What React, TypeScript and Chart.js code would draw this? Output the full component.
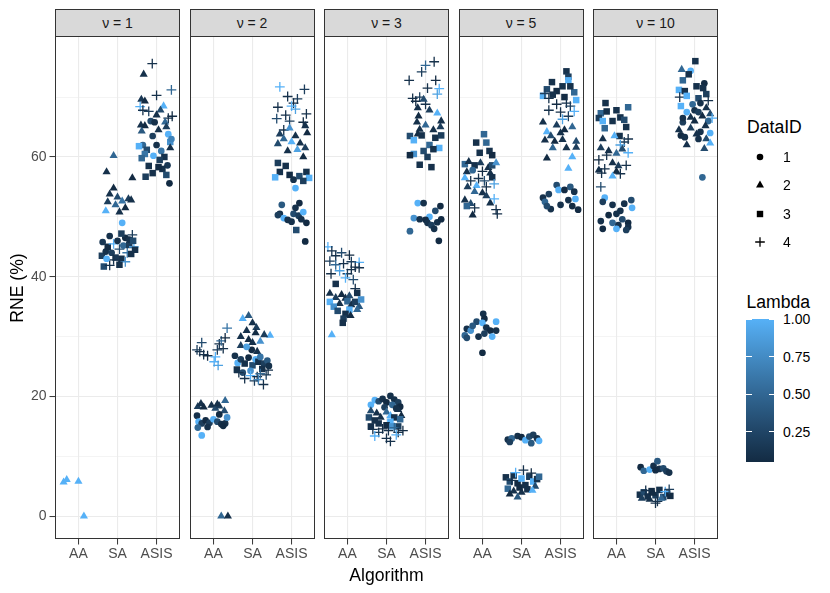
import { useEffect, useRef } from 'react';
import Chart from 'chart.js/auto';

const algorithms = ['AA', 'SA', 'ASIS'];
const nuValues = ['1', '2', '3', '5', '10'];
const yTickValues = [0, 10, 20, 30, 40, 50, 60, 70];
const yLabelled = [0, 20, 40, 60];
const dataIds = [1, 2, 3, 4];
const lambdaTicks = [0.25, 0.5, 0.75, 1.0];
const lambdaMin = 0.05;
const lambdaMax = 1;

// [jitter offset, RNE (%), DataID, Lambda]
type Pt = [number, number, number, number];

const nu1AA: Pt[] = [[-0.38,5.7,2,1],[-0.3,6.1,2,1],[0.0,5.8,2,1],[0.14,0.0,2,1]];
const nu1SA: Pt[] = [
  [-0.35,41.7,3,0.3],[-0.2,41.9,4,0.1],[-0.4,43.5,3,0.2],[-0.3,44.2,1,0.1],[-0.25,45.0,3,0.05],[-0.15,44.0,1,0.2],[-0.1,45.5,4,1],[-0.05,43.2,3,0.15],[0.0,46.0,1,0.1],[0.05,44.6,4,0.3],[0.1,43.0,3,0.1],[0.15,45.2,1,0.5],[0.2,46.5,1,0.05],[0.25,44.0,4,0.6],[0.3,45.3,3,0.2],[0.35,43.8,3,0.1],[0.38,47.0,4,0.2],[0.42,45.0,4,1],[0.45,44.5,3,0.1],[-0.38,45.8,1,0.15],[-0.2,46.8,1,0.1],[0.1,47.2,3,0.2],[-0.1,42.8,4,0.1],[0.2,42.5,4,0.8],[0.3,46.2,1,0.1],[-0.28,43.0,1,1],[0.05,42.0,3,0.1],[0.4,46.0,3,0.3],
  [-0.3,51.0,2,1],[-0.25,52.5,2,0.2],[-0.2,53.8,2,0.1],[-0.1,54.8,2,0.05],[-0.05,52.0,2,0.5],[0.0,53.3,2,0.3],[0.05,50.8,2,0.1],[0.12,52.6,2,0.6],[0.2,51.5,2,0.05],[0.28,53.0,2,0.2],[0.35,52.8,2,0.1],[0.12,49.0,1,1],
  [-0.1,60.2,2,0.5],[-0.28,57.5,2,0.1],[0.38,56.5,2,0.05],
];
const nu1ASIS: Pt[] = [
  [-0.11,75.6,4,0.1],[-0.33,73.8,2,0.1],[0.38,71.2,4,0.5],[0.0,70.3,4,0.1],[-0.39,69.6,2,0.15],[-0.3,69.3,2,0.05],[-0.42,68.4,4,1],[-0.35,67.8,4,0.1],[0.18,68.5,2,1],[0.1,67.8,2,0.3],[-0.2,67.6,4,0.2],[0.3,66.5,4,0.1],[0.0,67.0,2,0.1],[-0.15,66.0,1,0.3],[0.22,65.8,2,0.5],[-0.4,65.3,2,0.1],[-0.3,65.2,2,0.05],[0.25,65.0,2,0.2],[-0.38,64.3,2,0.4],[0.05,64.5,2,0.1],[-0.1,63.5,1,0.2],[0.3,63.8,1,1],[0.35,62.5,3,0.8],[-0.35,62.0,1,0.5],[-0.25,61.2,3,0.3],[0.0,62.0,1,0.1],[0.12,61.0,1,0.6],[-0.08,60.2,1,1],[-0.3,60.5,3,0.6],[0.2,60.0,3,0.1],[0.35,61.5,2,0.1],[-0.38,59.8,3,0.5],[0.08,59.5,3,0.2],[-0.2,58.5,3,0.1],[0.28,58.6,1,0.15],[0.15,58.0,3,0.1],[-0.28,56.7,3,0.2],[-0.1,57.3,3,0.1],[0.05,58.3,3,0.05],[0.25,57.0,3,0.3],[0.33,55.6,1,0.05],[0.38,63.0,1,0.7],[-0.45,61.8,3,1],[0.4,66.8,4,0.05],[-0.05,65.8,1,0.1],
];

const nu2AA: Pt[] = [
  [-0.42,27.8,4,0.2],[-0.35,27.5,4,0.1],[-0.3,29.0,4,0.3],[-0.25,27.0,4,0.1],[-0.15,26.8,4,0.05],[0.05,26.6,4,1],[0.1,27.8,4,0.2],[0.15,28.8,4,0.1],[0.2,29.3,4,0.5],[0.25,28.0,4,0.1],[0.3,29.8,4,0.05],[0.35,31.4,4,0.6],[0.02,25.8,4,1],[0.12,25.2,4,0.9],
  [-0.4,18.3,2,0.2],[-0.32,18.8,2,0.1],[-0.25,18.2,2,0.05],[-0.05,18.5,2,0.1],[0.05,18.0,2,0.3],[0.15,18.4,2,0.2],[0.3,19.3,2,0.5],[0.28,17.6,2,0.3],[0.1,18.7,2,0.1],
  [-0.42,16.8,1,0.1],[-0.38,15.8,1,1],[-0.3,15.5,1,0.2],[-0.4,14.8,1,0.5],[-0.3,13.5,1,1],[-0.2,16.0,1,0.05],[-0.1,15.6,1,0.2],[0.0,16.2,1,1],[0.1,15.8,1,0.3],[0.15,17.0,1,0.05],[0.2,15.4,1,0.1],[0.3,15.5,1,0.1],[0.35,16.5,1,0.8],[0.25,15.1,1,0.05],[-0.15,14.9,1,0.1],
  [0.2,0.0,2,0.5],[0.37,0.0,2,0.1],
];
const nu2SA: Pt[] = [
  [-0.25,33.0,2,1],[-0.1,33.5,2,0.4],[0.0,32.3,2,0.1],[0.1,31.5,2,0.2],[-0.15,31.0,2,0.1],[0.08,30.6,2,0.05],[0.45,30.2,2,1],[0.3,30.3,2,0.2],[-0.3,30.0,2,0.1],[-0.1,29.5,2,0.05],[0.2,29.2,2,0.8],[-0.3,28.5,2,0.2],[0.0,29.0,2,0.1],[-0.02,27.8,1,0.05],[0.12,27.5,2,0.1],[-0.15,28.3,1,0.9],
  [-0.45,26.8,1,0.1],[-0.38,25.6,1,1],[-0.3,26.2,1,0.2],[-0.2,25.5,3,0.1],[-0.1,26.5,1,0.05],[0.0,25.2,3,0.3],[0.08,26.2,1,1],[0.15,25.8,3,0.1],[0.2,26.6,1,0.6],[0.3,25.5,3,0.2],[0.38,26.0,1,0.4],[0.42,25.1,1,0.1],[-0.4,24.5,3,0.1],[-0.25,24.0,1,0.3],[0.25,24.6,3,0.1],[-0.05,24.3,1,0.8],
  [-0.35,24.0,4,0.1],[-0.2,23.0,4,0.1],[-0.05,23.5,4,1],[0.05,22.6,4,0.2],[0.12,23.3,4,0.05],[0.2,23.8,4,0.5],[0.28,22.0,4,0.1],[0.35,23.6,4,0.2],[0.4,24.4,4,0.1],[0.15,22.8,4,0.7],
];
const nu2ASIS: Pt[] = [
  [-0.3,71.7,4,1],[0.33,71.3,4,0.2],[-0.1,70.1,4,0.1],[0.15,69.7,4,0.2],[0.05,69.0,4,0.05],[-0.35,68.3,4,0.1],[0.0,68.5,4,1],[0.1,68.0,4,0.9],[0.38,67.2,4,0.1],[-0.38,66.4,4,0.3],[-0.15,67.0,4,0.1],[-0.05,66.0,4,0.2],[0.3,65.8,4,0.05],[-0.2,64.5,4,0.1],
  [0.35,65.2,2,0.1],[-0.05,64.8,2,0.8],[-0.3,63.8,2,0.2],[0.1,63.5,2,0.1],[0.4,64.0,2,0.05],[-0.2,63.0,2,0.5],[0.0,62.5,2,1],[-0.35,62.2,2,0.3],[0.22,62.3,2,0.1],[0.35,61.5,2,0.2],[0.15,61.2,2,0.9],[-0.1,61.0,2,0.1],[0.3,60.0,2,0.05],
  [-0.35,59.0,3,0.2],[-0.15,58.5,3,0.1],[-0.3,57.5,3,0.1],[-0.05,57.0,3,0.05],[-0.42,56.6,3,1],[0.2,56.8,3,0.3],[0.38,57.5,3,0.1],[0.45,56.5,3,1],[0.3,56.0,3,0.2],[0.05,56.2,1,0.1],[0.1,54.8,1,1],
  [-0.25,52.0,1,0.4],[0.1,51.5,1,0.1],[0.2,52.3,1,0.05],[-0.3,50.5,1,0.1],[-0.2,49.8,1,1],[-0.1,49.5,1,0.1],[0.05,50.5,1,0.3],[0.18,50.2,1,0.2],[0.3,50.8,1,1],[0.38,49.0,1,0.05],[0.25,49.6,1,0.1],[-0.35,50.3,1,0.2],[0.12,47.8,3,0.3],[0.35,45.9,1,0.05],[0.0,49.2,1,0.1],
];

const nu3AA: Pt[] = [
  [-0.5,45.0,4,1],[-0.4,44.3,4,0.1],[-0.3,43.5,4,0.1],[-0.15,44.0,4,0.3],[0.05,43.6,4,0.05],[-0.45,42.6,4,0.2],[-0.3,42.0,4,0.5],[-0.1,42.2,4,0.1],[0.1,42.5,4,0.2],[0.3,42.4,4,1],[0.2,41.6,4,0.05],[-0.42,40.5,4,0.1],[-0.2,41.0,4,0.9],[0.0,40.5,4,0.2],[0.1,41.2,4,0.1],[0.3,41.5,4,0.1],[-0.05,39.8,4,1],[0.15,39.5,4,0.3],[0.2,38.0,4,0.1],
  [-0.3,38.8,3,0.1],[0.25,37.3,3,0.1],[-0.45,37.2,2,0.1],[-0.3,36.5,2,0.2],[-0.15,37.0,2,0.05],[-0.05,36.4,2,0.1],[0.05,36.8,2,0.3],[-0.45,35.8,3,1],[-0.2,35.5,2,0.1],[0.0,35.9,3,0.5],[0.1,35.3,2,0.1],[0.2,35.8,3,0.2],[0.3,35.0,2,0.4],[0.35,36.2,3,0.8],[-0.35,35.0,3,0.8],[-0.25,34.3,3,0.3],[0.05,34.5,3,1],[0.25,34.5,2,0.5],[-0.05,33.8,3,0.1],[-0.1,33.0,3,0.2],[0.08,33.5,2,0.05],[-0.12,32.3,3,0.1],[-0.4,30.3,2,1],
];
const nu3SA: Pt[] = [
  [0.1,20.1,1,0.1],[-0.3,19.4,1,1],[-0.2,19.2,1,0.3],[-0.1,19.6,1,0.1],[0.0,19.0,1,0.05],[0.2,19.5,1,0.1],[0.3,19.0,1,0.2],[0.35,18.3,1,0.05],[-0.4,18.6,1,1],[0.15,18.6,1,0.5],[0.25,18.0,1,0.1],[-0.05,18.2,1,0.2],
  [-0.4,17.6,2,0.3],[-0.25,17.2,2,0.1],[0.0,17.4,2,0.5],[0.3,17.8,2,0.1],[0.38,16.8,2,0.05],[-0.15,16.5,2,0.1],[0.1,16.8,2,1],[-0.45,16.5,3,0.3],[-0.3,16.0,3,0.1],[0.2,16.5,3,0.1],[0.35,16.2,3,0.5],[0.1,15.8,3,1],[-0.2,15.5,3,0.1],[0.0,15.2,3,0.05],[0.3,15.0,3,0.2],[-0.4,15.0,3,0.1],[0.15,15.0,3,0.8],
  [-0.35,14.5,4,0.1],[-0.2,14.0,4,0.2],[-0.1,14.6,4,0.05],[0.05,14.3,4,0.1],[0.2,14.8,4,0.5],[0.3,14.0,4,0.1],[0.42,14.3,4,0.05],[-0.3,13.4,4,1],[0.0,13.0,4,0.1],[0.1,12.5,4,0.1],[0.25,13.6,4,1],
];
const nu3ASIS: Pt[] = [
  [0.22,75.9,4,0.1],[0.0,75.3,4,0.5],[-0.1,74.2,4,0.2],[-0.42,72.8,4,0.1],[0.26,72.8,4,0.05],[0.35,71.4,4,1],[0.05,71.5,4,0.1],[0.3,70.5,4,0.9],[-0.33,69.8,4,0.1],[-0.15,70.0,4,0.2],[-0.25,69.3,4,0.05],[0.0,68.8,4,0.1],[-0.05,69.6,2,0.3],
  [-0.2,68.2,2,0.1],[0.1,67.8,2,0.2],[0.3,67.3,2,1],[-0.18,66.8,2,0.05],[0.4,66.0,2,0.1],[-0.22,65.8,2,0.1],[0.0,65.3,2,0.5],[-0.15,64.6,2,0.1],[0.38,65.0,2,0.2],[0.2,64.5,2,0.1],[-0.2,63.8,2,0.05],
  [-0.4,63.5,3,0.3],[-0.3,62.8,3,1],[-0.1,63.6,3,0.1],[0.25,63.2,3,0.1],[0.4,63.6,3,0.2],[0.1,62.0,3,0.5],[0.35,61.5,3,1],[-0.05,61.0,3,0.3],[-0.3,60.5,3,0.8],[0.2,61.3,3,0.1],[-0.4,60.3,3,0.05],[0.05,60.0,3,0.2],[-0.15,58.7,3,0.1],[0.15,58.3,3,0.1],
  [-0.2,52.3,1,1],[-0.05,52.3,1,0.1],[0.38,51.8,1,0.05],[0.25,51.0,1,0.3],[0.1,50.0,1,1],[-0.3,49.8,1,0.8],[-0.15,49.6,1,0.1],[0.0,49.5,1,0.05],[0.05,49.0,1,0.1],[0.15,48.6,1,0.2],[0.3,49.1,1,0.1],[0.4,49.6,1,0.05],[0.22,48.0,1,0.1],[-0.4,47.6,1,0.5],[0.34,46.0,1,0.05],
];

const nu5AA: Pt[] = [
  [0.04,63.8,3,0.5],[-0.16,62.4,3,0.1],[0.1,62.4,3,0.5],[-0.07,60.7,3,0.1],[0.18,61.0,3,0.1],[0.25,60.3,3,0.05],
  [-0.45,58.8,3,0.5],[-0.35,59.2,2,0.1],[-0.2,58.6,3,0.1],[-0.05,59.0,2,0.2],[0.15,58.2,2,0.1],[0.25,58.6,3,0.3],[0.35,59.0,2,0.8],[-0.4,57.5,2,0.1],[-0.25,57.8,1,0.5],[0.0,57.6,4,0.05],[0.2,57.3,2,0.1],[-0.45,56.5,2,1],[-0.3,56.0,4,0.1],[-0.1,56.4,4,0.1],[0.05,56.0,4,0.3],[0.25,56.6,3,0.1],[0.3,55.5,4,0.9],[-0.38,55.0,2,0.2],[-0.15,55.2,2,1],[0.1,55.0,4,0.1],[-0.2,54.2,2,0.5],[0.0,54.0,2,0.1],[-0.45,52.8,2,0.1],[-0.3,52.2,2,0.3],[-0.4,51.8,3,0.5],[-0.2,51.5,4,0.1],[0.2,52.3,2,0.1],[0.3,53.0,4,1],[0.35,51.2,4,0.1],[-0.25,50.3,2,0.05],[0.1,53.5,2,0.2],[0.38,50.5,4,0.1],
  [0.02,33.8,1,0.1],[0.05,33.0,1,0.05],[-0.15,32.5,1,0.3],[0.0,32.3,1,1],[0.35,32.5,1,1],[-0.4,31.3,1,0.1],[-0.3,31.0,1,0.8],[-0.25,31.8,1,0.4],[0.1,31.5,1,0.1],[0.2,31.0,1,0.05],[0.35,31.0,1,0.1],[-0.45,30.2,1,0.5],[-0.1,30.0,1,0.1],[0.05,30.5,1,0.2],[0.25,30.0,1,1],[-0.4,29.8,1,0.3],[0.0,27.3,1,0.05],
];
const nu5SA: Pt[] = [
  [-0.35,12.8,1,0.1],[-0.25,13.0,1,0.5],[-0.1,13.4,1,0.1],[0.0,13.2,1,0.05],[0.1,12.7,1,1],[0.2,13.3,1,0.3],[0.25,12.2,1,0.4],[0.3,13.6,1,0.2],[0.4,13.0,1,0.1],[0.45,12.6,1,1],[-0.3,12.4,1,0.2],
  [-0.4,6.5,3,0.1],[-0.3,5.8,3,0.3],[-0.2,6.8,3,0.1],[-0.1,5.5,3,0.05],[0.0,6.3,3,1],[0.1,5.2,3,0.1],[0.2,6.6,3,0.2],[0.3,5.8,3,1],[0.4,6.2,3,0.1],[-0.35,4.6,3,0.5],[0.15,4.5,3,0.1],[-0.15,7.3,4,1],[0.05,7.7,4,0.1],[0.25,7.2,4,0.05],[-0.25,6.0,4,0.1],[0.35,5.0,2,0.3],[-0.2,4.2,2,0.1],[0.0,4.0,2,0.1],[-0.3,3.7,2,0.05],[-0.1,3.2,2,0.4],[0.28,4.3,2,1],[-0.05,4.8,3,0.05],[0.45,6.6,3,0.5],
];
const nu5ASIS: Pt[] = [
  [0.15,74.3,3,0.1],[0.2,73.4,3,0.2],[0.2,72.8,3,1],[-0.22,72.5,3,0.1],[-0.35,71.3,3,0.3],[-0.1,71.0,3,0.05],[0.05,71.8,3,0.1],[0.35,70.8,3,0.5],[0.25,71.8,3,0.1],[-0.45,70.2,3,1],[-0.2,70.4,3,0.1],[0.1,70.0,3,0.05],[0.4,69.5,3,1],[-0.3,69.8,4,0.1],
  [-0.4,70.6,4,0.2],[0.15,69.0,4,0.1],[-0.1,68.8,4,0.05],[0.25,68.5,4,0.2],[-0.3,67.8,4,0.1],[0.0,67.5,4,0.1],[0.35,67.6,4,1],[0.2,66.8,4,0.2],[0.05,66.3,4,0.9],
  [-0.45,65.8,2,0.1],[-0.1,65.3,2,0.2],[0.3,65.0,2,0.5],[-0.35,64.2,2,1],[0.0,64.0,2,0.1],[0.1,64.5,2,0.05],[-0.25,63.5,2,0.3],[0.4,62.6,2,0.3],[-0.4,62.8,2,0.1],[-0.15,62.6,2,0.05],[0.05,62.9,2,0.1],[-0.2,61.5,2,0.5],[0.15,61.5,2,0.1],[0.4,61.6,2,0.2],[0.3,60.0,2,1],[-0.35,59.8,2,0.05],[0.2,58.1,2,1],
  [-0.1,55.3,1,0.3],[0.25,55.0,1,0.4],[-0.05,54.5,1,1],[0.1,54.5,1,0.05],[0.35,54.2,1,0.1],[-0.45,53.2,1,0.1],[-0.3,53.8,1,0.2],[-0.4,52.5,1,0.5],[0.0,52.0,1,0.1],[0.2,52.8,1,0.1],[0.38,53.0,1,1],[-0.25,51.3,1,0.1],[0.3,51.8,1,0.05],[-0.35,51.8,1,0.3],[0.45,51.2,1,0.05],
];

const nu10AA: Pt[] = [
  [-0.28,69.0,3,0.1],[0.3,68.3,3,0.5],[0.0,67.8,3,0.1],[-0.4,67.3,3,0.5],[-0.25,67.6,3,0.1],[-0.45,66.5,3,0.2],[-0.1,66.0,3,0.1],[0.1,66.6,3,0.1],[0.2,66.2,3,0.3],[-0.35,66.0,3,1],[0.25,65.0,3,0.1],[-0.3,64.8,3,0.5],[0.08,63.5,3,0.1],[0.3,63.0,4,0.1],[0.2,62.5,4,0.2],
  [-0.35,63.0,2,0.1],[-0.05,63.5,2,1],[0.1,62.0,4,0.9],[-0.4,61.5,2,0.2],[-0.2,61.0,2,0.1],[0.15,61.3,2,0.3],[0.3,60.7,4,1],[-0.25,60.3,4,0.1],[0.0,60.6,2,0.5],[-0.45,59.5,4,0.05],[-0.1,59.0,2,0.1],[0.05,58.5,2,0.2],[-0.3,58.0,4,0.1],[0.25,58.6,4,0.1],[-0.45,57.8,2,0.1],[-0.38,57.3,4,0.1],[0.0,57.6,2,0.05],[0.1,57.2,4,0.1],[-0.1,56.8,2,1],[-0.4,55.0,4,0.3],
  [-0.3,53.2,1,1],[-0.35,52.5,1,0.2],[0.38,52.8,1,0.3],[0.2,52.2,1,0.1],[0.4,51.5,1,1],[-0.1,52.0,1,0.1],[0.1,51.0,1,0.1],[-0.2,50.3,1,0.05],[0.0,50.5,1,0.1],[0.15,49.6,1,0.3],[-0.4,49.3,1,0.1],[-0.1,49.0,1,0.5],[0.05,48.6,1,0.1],[0.3,49.0,1,0.05],[-0.35,48.0,1,0.05],[0.0,48.0,1,1],[0.3,48.3,1,0.1],[0.25,47.8,1,0.2],
];
const nu10SA: Pt[] = [
  [-0.38,8.2,1,0.05],[-0.3,7.6,1,0.5],[-0.15,7.8,1,1],[-0.05,8.4,1,0.1],[0.05,9.2,1,0.4],[0.1,7.9,1,0.1],[0.2,8.0,1,0.3],[0.28,7.5,1,0.2],[0.35,7.3,1,0.1],[0.0,7.7,1,0.05],
  [-0.4,3.6,3,0.1],[-0.3,4.0,3,0.3],[-0.2,3.3,3,0.1],[-0.1,4.2,3,0.05],[0.0,3.5,3,0.2],[0.1,4.4,3,0.1],[0.2,3.2,3,0.3],[0.3,3.8,3,0.1],[0.38,3.4,3,0.05],[-0.35,3.0,2,0.2],[-0.15,2.8,2,0.1],[0.05,2.5,4,0.1],[0.15,3.0,2,0.5],[-0.25,4.3,4,0.1],[0.25,4.1,4,1],[-0.05,3.8,2,0.05],[0.35,4.5,4,0.2],[0.0,2.2,4,0.1],
];
const nu10ASIS: Pt[] = [
  [0.02,76.0,3,0.1],[-0.33,74.6,2,0.5],[-0.1,74.4,1,1],[-0.3,72.8,3,0.5],[-0.15,73.8,3,0.1],[0.25,72.3,1,0.05],[0.22,71.5,3,0.1],[0.05,71.8,3,0.1],[-0.4,71.2,3,1],[-0.25,71.0,3,0.1],[0.3,70.5,3,0.2],[-0.38,70.0,4,0.1],[-0.2,70.2,3,1],[0.1,69.8,3,0.3],[0.15,69.0,1,0.1],[-0.05,68.8,1,0.5],[-0.35,68.5,3,1],[0.0,67.8,1,0.1],[0.3,68.2,2,0.1],[-0.2,67.5,1,1],[0.1,67.5,1,0.2],[0.4,67.2,2,0.3],[0.45,66.5,4,1],[0.2,66.8,2,0.05],[-0.1,66.6,2,0.1],[0.35,66.0,1,0.5],[0.0,66.0,2,0.05],[-0.3,65.8,1,0.2],[0.28,65.2,2,0.1],[-0.4,64.5,2,0.1],[-0.1,64.8,2,0.2],[0.15,64.2,1,0.1],[0.4,64.0,1,1],[-0.35,63.6,1,0.05],[-0.25,63.3,1,0.1],[0.05,63.8,2,0.1],[0.3,63.0,2,0.3],[0.1,63.0,1,0.1],[-0.2,62.0,2,0.1],[0.25,61.4,2,0.3],[0.4,62.3,2,1],[-0.3,66.5,1,0.1],[0.35,69.4,4,0.1],[0.2,56.6,1,0.5],
];

const facetGroups: Pt[][][] = [
  [nu1AA, nu1SA, nu1ASIS],
  [nu2AA, nu2SA, nu2ASIS],
  [nu3AA, nu3SA, nu3ASIS],
  [nu5AA, nu5SA, nu5ASIS],
  [nu10AA, nu10SA, nu10ASIS],
];

const FONT = '"Liberation Sans", Arial, Helvetica, sans-serif';
const TEXT_SIZE = 14;
const TITLE_SIZE = 17.6;
const PANEL_LEFT = [55, 189.5, 324, 458.5, 593];
const PANEL_W = 125;
const PANEL_TOP = 36;
const PANEL_H = 503;
const X_AXIS_H = 30;
const Y_AXIS_W = 55;

// ggplot-like Lab interpolation between low and high colours
const LOW = '#132B43';
const HIGH = '#56B1F7';
function hexToLab(hex: string) {
  const n = parseInt(hex.slice(1), 16);
  const [r, g, b] = [(n >> 16) & 255, (n >> 8) & 255, n & 255].map((v) => {
    v /= 255;
    return v <= 0.04045 ? v / 12.92 : ((v + 0.055) / 1.055) ** 2.4;
  });
  const X = (0.4124 * r + 0.3576 * g + 0.1805 * b) / 0.95047;
  const Y = 0.2126 * r + 0.7152 * g + 0.0722 * b;
  const Z = (0.0193 * r + 0.1192 * g + 0.9505 * b) / 1.08883;
  const f = (t: number) => (t > 0.008856 ? Math.cbrt(t) : 7.787 * t + 16 / 116);
  const fx = f(X), fy = f(Y), fz = f(Z);
  return [116 * fy - 16, 500 * (fx - fy), 200 * (fy - fz)];
}
function labToRgb([L, a, b]: number[]) {
  const fy = (L + 16) / 116, fx = fy + a / 500, fz = fy - b / 200;
  const inv = (t: number) => (t ** 3 > 0.008856 ? t ** 3 : (t - 16 / 116) / 7.787);
  const X = inv(fx) * 0.95047, Y = inv(fy), Z = inv(fz) * 1.08883;
  const r = 3.2406 * X - 1.5372 * Y - 0.4986 * Z;
  const g = -0.9689 * X + 1.8758 * Y + 0.0415 * Z;
  const bb = 0.0557 * X - 0.204 * Y + 1.057 * Z;
  const c = (v: number) => {
    v = v <= 0.0031308 ? 12.92 * v : 1.055 * v ** (1 / 2.4) - 0.055;
    return Math.round(Math.min(1, Math.max(0, v)) * 255);
  };
  return `rgb(${c(r)},${c(g)},${c(bb)})`;
}
const lowLab = hexToLab(LOW);
const highLab = hexToLab(HIGH);
function colorAt(t: number) {
  t = Math.min(1, Math.max(0, t));
  return labToRgb(lowLab.map((v, i) => v + (highLab[i] - v) * t));
}
const lambdaColor = (lam: number) => colorAt((lam - lambdaMin) / (lambdaMax - lambdaMin));

const shapeStyle: Record<number, string> = { 1: 'circle', 2: 'triangle', 3: 'rect', 4: 'cross' };
const shapeRadius: Record<number, number> = { 1: 3.35, 2: 4.7, 3: 4.6, 4: 4.9 };

const panelBorder = {
  id: 'panelBorder',
  afterDraw(chart: any) {
    const { ctx, chartArea: a } = chart;
    ctx.save();
    ctx.strokeStyle = '#333333';
    ctx.lineWidth = 1;
    ctx.strokeRect(a.left + 0.5, a.top + 0.5, a.width - 1, a.height - 1);
    ctx.restore();
  },
};

const Facet = ({ index }: { index: number }) => {
  const chartRef = useRef<HTMLCanvasElement>(null);
  const showY = index === 0;
  const axisW = showY ? Y_AXIS_W : 0;

  useEffect(() => {
    const canvas = chartRef.current;
    if (!canvas) return;
    const points = facetGroups[index].flatMap((group, gi) =>
      group.map(([dx, y, id, lam]) => ({ x: gi + 1 + dx, y, id, lam }))
    );

    const chartInstance = new Chart(canvas, {
      type: 'scatter',
      data: {
        datasets: [
          {
            data: points as any,
            pointStyle: (c: any) => shapeStyle[c.raw.id] as any,
            pointRadius: (c: any) => shapeRadius[c.raw.id],
            pointBackgroundColor: (c: any) => lambdaColor(c.raw.lam),
            pointBorderColor: (c: any) => lambdaColor(c.raw.lam),
            pointBorderWidth: (c: any) => (c.raw.id === 4 ? 1.3 : 0),
          },
        ],
      },
      options: {
        animation: false,
        responsive: false,
        maintainAspectRatio: false,
        events: [],
        layout: { autoPadding: false, padding: { top: 1, right: 1, left: 0, bottom: 0 } },
        plugins: { legend: { display: false }, tooltip: { enabled: false } },
        scales: {
          x: {
            type: 'linear',
            min: 0.4,
            max: 3.6,
            afterBuildTicks: (s: any) => {
              s.ticks = algorithms.map((_, i) => ({ value: i + 1 }));
            },
            afterFit: (s: any) => {
              s.height = X_AXIS_H;
              s.paddingLeft = 0;
              s.paddingRight = 0;
            },
            ticks: {
              callback: (v: any) => algorithms[Number(v) - 1] ?? '',
              color: '#4D4D4D',
              font: { size: TEXT_SIZE, family: FONT },
              padding: 1.5,
              autoSkip: false,
              maxRotation: 0,
            },
            grid: { color: '#EBEBEB', lineWidth: 1.1, tickColor: '#333333', tickLength: 5.5, tickWidth: 1 },
            border: { display: false },
          },
          y: {
            type: 'linear',
            min: -3.8,
            max: 80.2,
            afterBuildTicks: (s: any) => {
              s.ticks = yTickValues.map((v) => ({ value: v }));
            },
            afterFit: (s: any) => {
              s.width = axisW;
              s.paddingTop = 0;
              s.paddingBottom = 0;
            },
            ticks: {
              display: showY,
              callback: (v: any) => (yLabelled.includes(Number(v)) ? String(v) : ''),
              color: '#4D4D4D',
              font: { size: TEXT_SIZE, family: FONT },
              padding: 3,
              autoSkip: false,
            },
            grid: {
              color: '#EBEBEB',
              lineWidth: (c: any) => (yLabelled.includes(c.tick?.value) ? 1.1 : 0.55),
              drawTicks: showY,
              tickColor: (c: any) => (yLabelled.includes(c.tick?.value) ? '#333333' : 'rgba(0,0,0,0)'),
              tickLength: 5.5,
              tickWidth: 1,
            },
            border: { display: false },
          },
        },
      },
      plugins: [panelBorder],
    });

    return () => chartInstance.destroy();
  }, [index]);

  const left = PANEL_LEFT[index];
  return (
    <>
      <div
        style={{
          position: 'absolute',
          left,
          top: 9,
          width: PANEL_W,
          height: 27.5,
          boxSizing: 'border-box',
          background: '#D9D9D9',
          border: '1px solid #333333',
          color: '#1A1A1A',
          fontSize: TEXT_SIZE,
          display: 'flex',
          alignItems: 'center',
          justifyContent: 'center',
        }}
      >
        {`ν = ${nuValues[index]}`}
      </div>
      <canvas
        ref={chartRef}
        width={axisW + PANEL_W + 1}
        height={1 + PANEL_H + X_AXIS_H}
        style={{ position: 'absolute', left: left - axisW, top: PANEL_TOP - 1 }}
      />
    </>
  );
};

const ShapeKey = ({ id }: { id: number }) => (
  <svg width={14} height={14} viewBox="-7 -7 14 14" style={{ position: 'absolute', left: 753, top: 0 }}>
    {id === 1 && <circle r={3.3} fill="#000" />}
    {id === 2 && <polygon points="0,-4.4 4,2.4 -4,2.4" fill="#000" />}
    {id === 3 && <rect x={-3.2} y={-3.2} width={6.4} height={6.4} fill="#000" />}
    {id === 4 && <path d="M-4.8 0H4.8M0 -4.8V4.8" stroke="#000" strokeWidth={1.3} />}
  </svg>
);

const Legends = () => {
  const barTop = 319.3;
  const barH = 142.4;
  const barLeft = 746;
  const barW = 28.3;
  const yOf = (v: number) => barTop + ((lambdaMax - v) / (lambdaMax - lambdaMin)) * barH;
  const stops = Array.from({ length: 11 }, (_, i) => `${colorAt(i / 10)} ${i * 10}%`).join(', ');
  return (
    <>
      <div style={{ position: 'absolute', left: 747, top: 117, fontSize: TITLE_SIZE, lineHeight: '20px', color: '#000' }}>
        DataID
      </div>
      {dataIds.map((id, i) => (
        <div key={id} style={{ position: 'absolute', left: 0, top: 149.7 + i * 28.55, width: 830, height: 14 }}>
          <ShapeKey id={id} />
          <div style={{ position: 'absolute', left: 783, top: -1, fontSize: TEXT_SIZE, lineHeight: '16px', color: '#000' }}>
            {id}
          </div>
        </div>
      ))}
      <div style={{ position: 'absolute', left: 746.5, top: 292, fontSize: TITLE_SIZE, lineHeight: '20px', color: '#000' }}>
        Lambda
      </div>
      <div
        style={{
          position: 'absolute',
          left: barLeft,
          top: barTop,
          width: barW,
          height: barH,
          background: `linear-gradient(to top, ${stops})`,
        }}
      />
      {lambdaTicks.map((v) => (
        <div key={v}>
          <div style={{ position: 'absolute', left: barLeft, top: yOf(v) - 0.5, width: 5.6, height: 1, background: '#fff' }} />
          <div style={{ position: 'absolute', left: barLeft + barW - 5.6, top: yOf(v) - 0.5, width: 5.6, height: 1, background: '#fff' }} />
          <div style={{ position: 'absolute', left: 783, top: yOf(v) - 8, fontSize: TEXT_SIZE, lineHeight: '16px', color: '#000' }}>
            {v.toFixed(2)}
          </div>
        </div>
      ))}
    </>
  );
};

export default function App() {
  return (
    <div
      style={{
        position: 'absolute',
        left: 0,
        top: 0,
        width: 830,
        height: 593,
        background: '#fff',
        fontFamily: FONT,
        overflow: 'hidden',
      }}
    >
      {nuValues.map((_, i) => (
        <Facet key={i} index={i} />
      ))}
      <div
        style={{
          position: 'absolute',
          left: 17 - 50,
          top: 288 - 10,
          width: 100,
          height: 20,
          lineHeight: '20px',
          textAlign: 'center',
          fontSize: TITLE_SIZE,
          transform: 'rotate(-90deg)',
          color: '#000',
        }}
      >
        RNE (%)
      </div>
      <div
        style={{
          position: 'absolute',
          left: 386.5 - 60,
          top: 565,
          width: 120,
          lineHeight: '20px',
          textAlign: 'center',
          fontSize: TITLE_SIZE,
          color: '#000',
        }}
      >
        Algorithm
      </div>
      <Legends />
    </div>
  );
}
